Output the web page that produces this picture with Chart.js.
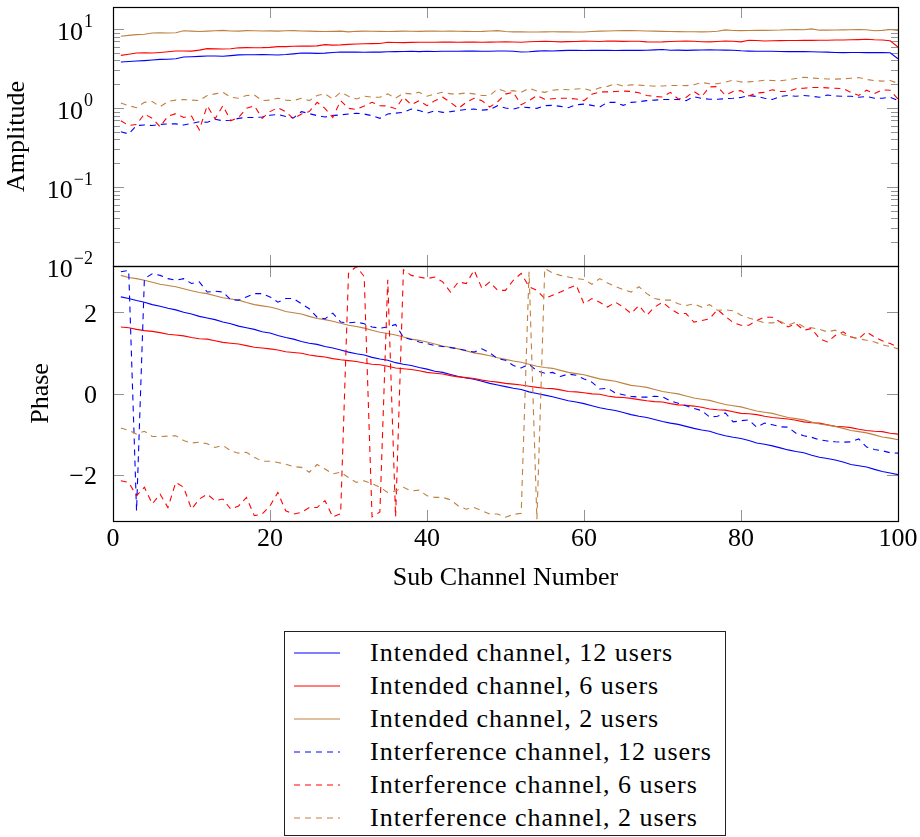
<!DOCTYPE html>
<html lang="en">
<head>
<meta charset="utf-8">
<title>Sub channel amplitude and phase</title>
<script src="https://cdn.jsdelivr.net/npm/chart.js@4.4.1/dist/chart.umd.min.js"></script>
<style>
  html, body { margin: 0; padding: 0; background: #fff; }
  body { width: 920px; height: 837px; position: relative; overflow: hidden;
         font-family: 'Liberation Serif', 'Times New Roman', serif; }
  canvas { position: absolute; left: 0; }
  #ampChart { top: 0; }
  #phaseChart { top: 240px; }
  #legend { position: absolute; left: 284px; top: 631px; width: 442px; height: 205px;
            border: 1px solid #222; box-sizing: border-box; padding-top: 4px; }
  .row { height: 33px; line-height: 33px; font-size: 26px; letter-spacing: 1px; color: #000;
         white-space: nowrap; position: relative; }
  .row svg { position: absolute; left: 9px; top: 12px; }
  .row span { position: absolute; left: 85px; top: 0; }
</style>
</head>
<body>
<canvas id="ampChart" width="920" height="300"></canvas>
<canvas id="phaseChart" width="920" height="370"></canvas>
<div id="legend"></div>
<script>
// sub channel index
const subChannel = [1,2,3,4,5,6,7,8,9,10,11,12,13,14,15,16,17,18,19,20,
  21,22,23,24,25,26,27,28,29,30,31,32,33,34,35,36,37,38,39,40,
  41,42,43,44,45,46,47,48,49,50,51,52,53,54,55,56,57,58,59,60,
  61,62,63,64,65,66,67,68,69,70,71,72,73,74,75,76,77,78,79,80,
  81,82,83,84,85,86,87,88,89,90,91,92,93,94,95,96,97,98,99,100];

const seriesNames = [
  'Intended channel, 12 users', 'Intended channel, 6 users', 'Intended channel, 2 users',
  'Interference channel, 12 users', 'Interference channel, 6 users', 'Interference channel, 2 users'
];

// amplitude (top plot)
const ampIntended12 = [3.82,3.88,3.93,3.98,4.05,4.13,4.15,4.20,4.42,4.45,
  4.50,4.55,4.55,4.52,4.60,4.70,4.73,4.73,4.75,4.73,
  4.68,4.75,4.85,4.97,4.95,4.92,4.95,5.05,5.12,5.10,
  5.10,5.08,5.12,5.10,5.15,5.18,5.20,5.22,5.18,5.22,
  5.20,5.22,5.24,5.22,5.26,5.25,5.22,5.24,5.26,5.27,
  5.22,5.12,5.15,5.25,5.30,5.28,5.32,5.36,5.37,5.35,
  5.36,5.37,5.37,5.35,5.36,5.37,5.36,5.38,5.45,5.50,
  5.38,5.40,5.36,5.40,5.42,5.45,5.42,5.40,5.38,5.30,
  5.25,5.22,5.22,5.22,5.20,5.18,5.20,5.18,5.15,5.12,
  5.10,5.05,5.02,5.05,5.05,5.02,5.02,5.05,5.00,4.21];
const ampIntended6 = [4.64,4.80,4.97,5.00,4.97,5.05,5.15,5.27,5.27,5.25,
  5.40,5.64,5.60,5.58,5.62,5.78,5.81,5.80,5.81,5.85,
  5.98,5.98,6.05,6.10,6.08,6.12,6.35,6.25,6.30,6.40,
  6.45,6.50,6.54,6.55,6.79,6.75,6.72,6.78,6.80,6.79,
  6.80,6.82,6.85,6.80,6.82,6.85,6.80,6.82,6.84,6.87,
  6.85,6.80,6.90,6.95,7.00,6.95,6.87,6.92,6.95,7.02,
  7.00,6.95,7.05,7.02,6.98,7.00,7.00,6.87,6.85,6.87,
  6.95,7.00,7.02,7.00,6.90,6.87,6.95,7.05,7.00,6.87,
  7.20,7.15,7.05,7.10,7.12,7.15,7.15,7.20,7.18,7.20,
  7.22,7.25,7.25,7.30,7.35,7.41,7.30,7.25,7.10,5.93];
const ampIntended2 = [8.10,8.30,8.50,8.60,8.90,8.95,8.90,8.95,9.50,9.40,
  9.30,9.40,9.50,9.60,9.45,9.40,9.55,9.50,9.45,9.48,
  9.40,9.50,9.55,9.45,9.40,9.35,9.30,9.35,9.40,9.20,
  9.35,9.40,9.38,9.35,9.30,9.35,9.40,9.38,9.35,9.40,
  9.42,9.38,9.40,9.38,9.35,9.30,9.35,9.45,9.55,9.30,
  9.21,9.20,9.15,9.18,9.20,9.22,9.21,9.21,9.15,9.18,
  9.30,9.40,9.45,9.50,9.55,9.57,9.50,9.45,9.40,9.35,
  9.30,9.28,9.25,9.25,9.21,9.25,9.35,9.75,9.57,9.55,
  9.57,9.60,9.62,9.65,9.70,9.80,9.86,9.80,10.05,9.67,
  9.67,9.70,9.75,9.80,9.86,9.80,9.50,9.60,9.86,9.57];
const ampInterf12 = [0.50,0.47,0.60,0.61,0.60,0.62,0.63,0.63,0.61,0.64,
  0.67,0.66,0.72,0.69,0.70,0.74,0.76,0.76,0.77,0.81,
  0.83,0.78,0.75,0.90,0.85,0.80,0.77,0.80,0.82,0.84,
  0.86,0.84,0.80,0.74,0.84,0.86,0.88,0.97,0.93,0.86,
  0.92,0.88,0.90,0.93,0.96,0.97,0.94,0.96,1.07,1.00,
  0.97,1.03,1.01,0.99,1.07,1.08,1.05,1.01,1.10,1.12,
  1.08,1.03,1.18,1.18,1.08,1.18,1.20,1.24,1.26,1.28,
  1.28,1.28,1.24,1.39,1.32,1.29,1.29,1.31,1.33,1.36,
  1.44,1.40,1.33,1.28,1.40,1.44,1.41,1.44,1.41,1.37,
  1.46,1.42,1.41,1.41,1.37,1.40,1.33,1.33,1.37,1.24];
const ampInterf6 = [0.69,0.60,0.62,0.84,0.74,0.58,0.79,0.85,0.76,0.79,
  0.53,1.07,0.73,1.07,0.69,0.76,0.99,1.07,0.74,0.90,
  1.01,0.90,0.73,0.84,0.90,1.18,0.99,0.76,1.24,0.99,
  0.96,1.06,1.18,1.07,1.06,0.98,1.37,1.10,1.24,1.07,
  1.24,1.37,1.18,0.99,1.18,1.33,1.24,1.03,1.20,1.50,
  1.58,1.10,1.24,1.44,1.29,1.31,1.33,1.33,1.30,1.24,
  1.49,1.60,1.60,1.62,1.64,1.62,1.56,1.44,1.40,1.38,
  1.58,1.30,1.36,1.62,1.40,1.85,1.87,1.45,1.62,1.66,
  1.42,1.55,1.58,1.70,1.62,1.62,1.75,1.78,1.82,1.82,
  1.80,1.78,1.76,1.58,1.44,1.68,1.52,1.70,1.68,1.30];
const ampInterf2 = [1.16,1.07,1.01,1.18,1.21,1.04,1.21,1.26,1.28,1.26,
  1.24,1.44,1.51,1.58,1.37,1.33,1.44,1.46,1.24,1.26,
  1.33,1.26,1.24,1.33,1.24,1.44,1.51,1.30,1.58,1.41,
  1.30,1.41,1.37,1.37,1.51,1.33,1.54,1.51,1.58,1.41,
  1.51,1.58,1.51,1.51,1.55,1.51,1.44,1.44,1.75,1.62,
  1.66,1.58,1.78,1.64,1.58,1.68,1.72,1.70,1.74,1.76,
  1.66,1.80,1.88,2.03,1.89,1.97,1.95,1.92,1.89,1.90,
  1.93,1.93,1.92,1.97,2.10,2.03,2.03,2.12,2.25,2.14,
  2.14,2.18,2.25,2.23,2.21,2.28,2.36,2.45,2.40,2.36,
  2.33,2.32,2.34,2.38,2.43,2.30,2.22,2.19,2.23,2.05];

// phase (bottom plot)
const phaseIntended12 = [2.38,2.34,2.29,2.25,2.19,2.15,2.10,2.06,2.00,1.96,
  1.90,1.86,1.82,1.76,1.72,1.66,1.62,1.58,1.52,1.49,
  1.43,1.38,1.34,1.28,1.24,1.21,1.16,1.12,1.07,1.02,
  0.98,0.95,0.89,0.85,0.82,0.76,0.72,0.69,0.64,0.60,
  0.55,0.52,0.47,0.42,0.38,0.35,0.30,0.25,0.21,0.17,
  0.13,0.10,0.04,0.00,-0.04,-0.08,-0.13,-0.18,-0.21,-0.25,
  -0.30,-0.35,-0.39,-0.42,-0.47,-0.52,-0.56,-0.59,-0.64,-0.69,
  -0.73,-0.76,-0.81,-0.86,-0.90,-0.93,-0.99,-1.04,-1.08,-1.11,
  -1.16,-1.22,-1.25,-1.29,-1.34,-1.39,-1.43,-1.46,-1.52,-1.57,
  -1.60,-1.64,-1.69,-1.75,-1.78,-1.81,-1.87,-1.92,-1.96,-2.00];
const phaseIntended6 = [1.64,1.62,1.58,1.55,1.53,1.50,1.46,1.44,1.42,1.38,
  1.35,1.34,1.30,1.26,1.24,1.22,1.18,1.14,1.12,1.10,
  1.07,1.03,1.01,0.99,0.95,0.92,0.90,0.86,0.83,0.81,
  0.79,0.75,0.72,0.71,0.67,0.63,0.61,0.59,0.56,0.52,
  0.50,0.48,0.44,0.41,0.39,0.37,0.33,0.30,0.28,0.25,
  0.23,0.21,0.18,0.15,0.13,0.12,0.09,0.05,0.04,0.02,
  -0.01,-0.02,-0.06,-0.09,-0.10,-0.12,-0.15,-0.18,-0.20,-0.21,
  -0.25,-0.28,-0.29,-0.31,-0.34,-0.38,-0.40,-0.41,-0.45,-0.49,
  -0.50,-0.52,-0.56,-0.59,-0.61,-0.63,-0.66,-0.70,-0.72,-0.73,
  -0.77,-0.81,-0.82,-0.84,-0.88,-0.91,-0.93,-0.94,-0.98,-1.00];
const phaseIntended2 = [2.91,2.86,2.83,2.79,2.74,2.69,2.66,2.63,2.58,2.53,
  2.49,2.46,2.41,2.36,2.33,2.30,2.24,2.19,2.16,2.13,
  2.08,2.02,1.99,1.96,1.90,1.85,1.82,1.78,1.73,1.68,
  1.65,1.61,1.56,1.51,1.48,1.44,1.39,1.34,1.31,1.27,
  1.22,1.17,1.14,1.10,1.05,1.00,0.97,0.93,0.88,0.84,
  0.80,0.77,0.72,0.67,0.64,0.62,0.57,0.52,0.49,0.46,
  0.41,0.36,0.33,0.30,0.25,0.20,0.18,0.15,0.10,0.05,
  0.02,-0.01,-0.06,-0.11,-0.14,-0.17,-0.22,-0.27,-0.30,-0.33,
  -0.38,-0.43,-0.46,-0.49,-0.54,-0.59,-0.62,-0.65,-0.70,-0.75,
  -0.78,-0.81,-0.86,-0.91,-0.94,-0.97,-1.02,-1.07,-1.10,-1.14];
const phaseInterf12 = [3.00,3.03,-2.89,2.83,2.95,2.91,2.83,2.79,2.83,2.71,
  2.75,2.50,2.52,2.50,2.31,2.30,2.38,2.46,2.46,2.38,
  2.25,2.34,2.34,2.21,2.09,1.88,1.84,1.98,1.76,1.74,
  1.76,1.72,1.64,1.61,1.64,1.70,1.38,1.33,1.27,1.23,
  1.18,1.16,1.13,1.10,1.06,1.02,1.10,1.00,0.86,0.82,
  0.69,0.63,0.72,0.56,0.50,0.52,0.42,0.48,0.45,0.36,
  0.28,0.11,0.13,0.01,-0.03,-0.07,-0.09,-0.09,-0.07,-0.08,
  -0.18,-0.24,-0.30,-0.37,-0.42,-0.58,-0.56,-0.48,-0.70,-0.67,
  -0.65,-0.83,-0.73,-0.77,-0.82,-0.83,-0.98,-1.04,-1.08,-1.14,
  -1.17,-1.19,-1.20,-1.19,-1.12,-1.32,-1.38,-1.41,-1.46,-1.47];
const phaseInterf6 = [-2.15,-2.19,-2.52,-2.31,-2.72,-2.48,-2.81,-2.19,-2.31,-2.85,
  -2.60,-2.48,-2.64,-2.60,-2.85,-2.77,-2.56,-3.01,-2.97,-2.77,
  -2.44,-2.89,-2.97,-2.93,-2.81,-2.81,-2.64,-3.04,-2.96,2.96,
  3.13,2.88,-3.04,-2.92,2.80,-3.04,3.05,2.91,2.87,2.83,
  2.87,2.75,2.50,2.75,2.71,3.04,2.59,2.75,2.54,2.54,
  2.79,2.96,2.63,2.54,2.34,2.42,2.50,2.59,2.67,2.21,
  2.34,2.25,2.13,2.25,2.13,1.97,2.17,1.93,2.13,2.25,
  2.09,1.97,1.97,1.76,1.80,1.84,2.07,1.90,1.75,1.68,
  1.68,1.80,1.88,1.88,1.76,1.64,1.72,1.56,1.60,1.35,
  1.27,1.43,1.52,1.39,1.35,1.52,1.39,1.30,1.23,1.14];
const phaseInterf2 = [-0.85,-0.91,-1.00,-0.93,-1.06,-1.06,-1.05,-1.04,-1.16,-1.22,
  -1.20,-1.24,-1.33,-1.28,-1.41,-1.47,-1.45,-1.57,-1.67,-1.67,
  -1.70,-1.74,-1.80,-1.82,-1.94,-1.75,-1.86,-1.98,-1.94,-2.07,
  -2.19,-2.15,-2.22,-2.31,-2.44,-2.40,-2.31,-2.40,-2.38,-2.52,
  -2.56,-2.56,-2.62,-2.77,-2.85,-2.81,-2.89,-2.97,-2.97,-3.05,
  -2.98,-2.95,3.00,-3.10,3.08,2.97,2.91,2.87,2.83,2.81,
  2.69,2.83,2.72,2.64,2.56,2.50,2.63,2.46,2.34,2.30,
  2.30,2.21,2.17,2.21,2.13,2.19,2.05,2.06,2.04,1.93,
  1.86,1.80,1.74,1.74,1.78,1.68,1.76,1.64,1.62,1.58,
  1.52,1.56,1.45,1.40,1.35,1.31,1.27,1.20,1.16,1.10];

// ticks
const xTickValues = [0, 20, 40, 60, 80, 100];
const ampTickValues = [0.01, 0.1, 1, 10];
const ampTickExponents = ['\u22122', '\u22121', '0', '1'];
const phaseTickValues = [-2, 0, 2];
const phaseTickLabels = ['\u22122', '0', '2'];
const ampMinorTicks = [0.01, 0.1, 1].flatMap(d => [2,3,4,5,6,7,8,9].map(k => k * d));

const colors = ['#0000ff', '#ff0000', '#bf8040', '#0000ff', '#ff0000', '#bf8040'];
const dashes = [[], [], [], [6, 5], [6, 5], [6, 5]];

const FONT = "'Liberation Serif', 'Times New Roman', serif";
Chart.defaults.font.family = FONT;
Chart.defaults.font.size = 26;
Chart.defaults.color = '#000';

// tick marks inside the box, and the box itself
const frameTicks = {
  id: 'frameTicks',
  beforeDatasetsDraw(chart, args, opts) {
    const {ctx, chartArea: a, scales} = chart;
    const y = scales.y;
    ctx.save();
    ctx.strokeStyle = 'rgba(0,0,0,0.42)';
    ctx.lineWidth = 1;
    ctx.beginPath();
    xTickValues.forEach(v => {
      if (v <= 0 || v >= 100) return;
      const px = Math.round(scales.x.getPixelForValue(v)) + 0.5;
      ctx.moveTo(px, a.top); ctx.lineTo(px, a.top + 11);
      ctx.moveTo(px, a.bottom); ctx.lineTo(px, a.bottom - 11);
    });
    const side = (vals, len) => vals.forEach(v => {
      const py = Math.round(y.getPixelForValue(v)) + 0.5;
      if (py <= a.top + 1 || py >= a.bottom - 1) return;
      ctx.moveTo(a.left, py); ctx.lineTo(a.left + len, py);
      ctx.moveTo(a.right, py); ctx.lineTo(a.right - len, py);
    });
    side(opts.major || [], 11);
    side(opts.minor || [], 7);
    ctx.stroke();
    ctx.restore();
  },
  afterDatasetsDraw(chart) {
    const {ctx, chartArea: a} = chart;
    ctx.save();
    ctx.strokeStyle = '#000';
    ctx.lineWidth = 1.2;
    ctx.strokeRect(Math.round(a.left) + 0.5, Math.round(a.top) + 0.5,
      Math.round(a.right - a.left), Math.round(a.bottom - a.top));
    ctx.restore();
  }
};

// y tick labels: "10" with a raised exponent on the log axis, plain numbers on the phase axis
const yLabels = {
  id: 'yLabels',
  afterDraw(chart, args, opts) {
    const {ctx, scales: {y}} = chart;
    ctx.save();
    ctx.fillStyle = '#000';
    ctx.textAlign = 'right';
    ctx.textBaseline = 'middle';
    opts.values.forEach((v, i) => {
      const py = y.getPixelForValue(v);
      if (opts.exponents) {
        ctx.font = `18px ${FONT}`;
        const exp = opts.exponents[i];
        const ew = ctx.measureText(exp).width;
        ctx.fillText(exp, opts.right, py - 7);
        ctx.font = `26px ${FONT}`;
        ctx.fillText('10', opts.right - ew - 1, py + 4);
      } else {
        ctx.font = `26px ${FONT}`;
        ctx.fillText(opts.labels[i], opts.right, py + 3);
      }
    });
    ctx.restore();
  }
};

const makeDatasets = (series) => series.map((data, i) => ({
  label: seriesNames[i],
  data: data,
  borderColor: colors[i],
  borderWidth: 1.1,
  borderDash: dashes[i],
  pointRadius: 0,
  tension: 0,
  fill: false,
  order: 5 - i
}));

const xScale = (show) => ({
  type: 'linear', min: 0, max: 100,
  display: show,
  grid: { display: false, drawTicks: true, tickLength: 3 },
  border: { display: false },
  afterBuildTicks: s => { s.ticks = xTickValues.map(v => ({ value: v })); },
  afterFit: s => { if (show) s.height = 89; },
  ticks: { padding: 0, maxRotation: 0, autoSkip: false },
  title: { display: show, text: 'Sub Channel Number', padding: { top: 0, bottom: 16 } }
});

const yGrid = { display: false, drawTicks: false };

const ampChart = new Chart(document.getElementById('ampChart'), {
  type: 'line',
  data: { labels: subChannel, datasets: makeDatasets([ampIntended12, ampIntended6, ampIntended2, ampInterf12, ampInterf6, ampInterf2]) },
  options: {
    responsive: false, animation: false, devicePixelRatio: 1,
    layout: { padding: { top: 7, right: 22, bottom: 34, left: 0 } },
    plugins: { legend: { display: false }, tooltip: { enabled: false },
      frameTicks: { major: ampTickValues, minor: ampMinorTicks },
      yLabels: { values: ampTickValues, exponents: ampTickExponents, right: 93 } },
    scales: {
      x: xScale(false),
      y: {
        type: 'logarithmic', min: 0.01, max: 19,
        grid: yGrid,
        border: { display: false },
        afterBuildTicks: s => { s.ticks = ampTickValues.map(v => ({ value: v })); },
        afterFit: s => { s.width = 113; },
        ticks: { padding: 0, autoSkip: false, font: { lineHeight: 0.01 }, callback: () => '' },
        title: { display: true, text: 'Amplitude', padding: { top: 2, bottom: 0 } }
      }
    }
  },
  plugins: [frameTicks, yLabels]
});

const phaseChart = new Chart(document.getElementById('phaseChart'), {
  type: 'line',
  data: { labels: subChannel, datasets: makeDatasets([phaseIntended12, phaseIntended6, phaseIntended2, phaseInterf12, phaseInterf6, phaseInterf2]) },
  options: {
    responsive: false, animation: false, devicePixelRatio: 1,
    layout: { padding: { top: 26, right: 22, bottom: 0, left: 0 } },
    plugins: { legend: { display: false }, tooltip: { enabled: false },
      frameTicks: { major: phaseTickValues, minor: [] },
      yLabels: { values: phaseTickValues, labels: phaseTickLabels, right: 97 } },
    scales: {
      x: xScale(true),
      y: {
        type: 'linear', min: -Math.PI, max: Math.PI,
        grid: yGrid,
        border: { display: false },
        afterBuildTicks: s => { s.ticks = phaseTickValues.map(v => ({ value: v })); },
        afterFit: s => { s.width = 113; },
        ticks: { padding: 0, autoSkip: false, font: { lineHeight: 0.01 }, callback: () => '' },
        title: { display: true, text: 'Phase', padding: { top: 26, bottom: 0 } }
      }
    }
  },
  plugins: [frameTicks, yLabels]
});

// legend box below the plots
const legend = document.getElementById('legend');
phaseChart.data.datasets.forEach(ds => {
  const row = document.createElement('div');
  row.className = 'row';
  const dash = ds.borderDash.length ? ` stroke-dasharray="${ds.borderDash.join(' ')}"` : '';
  row.innerHTML = `<svg width="46" height="10"><line x1="0" y1="5" x2="46" y2="5" stroke="${ds.borderColor}" stroke-width="1.1"${dash}/></svg><span>${ds.label}</span>`;
  legend.appendChild(row);
});
</script>
</body>
</html>
